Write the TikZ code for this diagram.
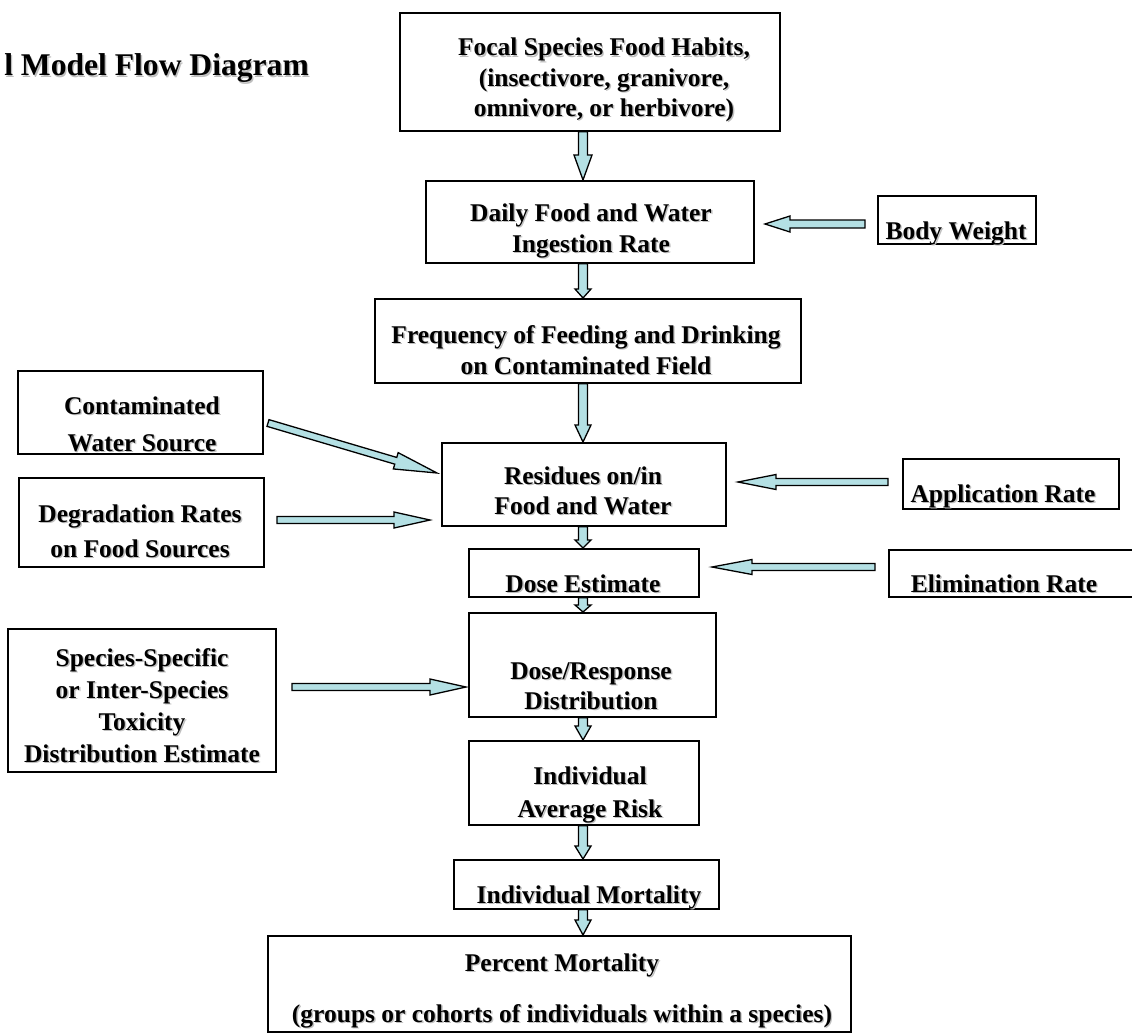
\documentclass[tikz,border=0pt]{standalone}
\usepackage{fontspec}
\setmainfont{Liberation Serif}
\usetikzlibrary{calc}
\definecolor{afill}{RGB}{180,224,228}
\newcommand\shd[1]{\leavevmode\rlap{\kern1.4pt\raisebox{-1.4pt}{\color{black!25}#1}}#1}
% #1 half shaft, #2 half head, #3 head length, #4 from, #5 to
\newcommand\barr[5]{%
\draw[barrow] let \p1=($(#5)-(#4)$), \n1={atan2(\y1,\x1)}, \n2={veclen(\x1,\y1)} in
($(#4)+(\n1+90:#1)$) -- ($(#4)+(\n1:\n2-#3)+(\n1+90:#1)$) -- ($(#4)+(\n1:\n2-#3)+(\n1+90:#2)$) -- (#5)
-- ($(#4)+(\n1:\n2-#3)+(\n1-90:#2)$) -- ($(#4)+(\n1:\n2-#3)+(\n1-90:#1)$) -- ($(#4)+(\n1-90:#1)$) -- cycle;}
\begin{document}
\begin{tikzpicture}[x=1pt,y=-1pt,
  box/.style={draw, line width=1.8pt, inner sep=0, anchor=north west},
  txt/.style={font=\fontsize{25.5}{31}\selectfont\bfseries, inner sep=0, anchor=base},
  barrow/.style={draw=black, line width=1.3pt, fill=afill, line join=miter}]
\useasboundingbox (0,0) rectangle (1132,1033);
\clip (0,0) rectangle (1132,1033);
% title
\node[font=\fontsize{31.6}{38}\selectfont\bfseries, inner sep=0, anchor=base east] (title) at (309,76) {\shd{l Model Flow Diagram}};
% boxes
\node[box, minimum width=380pt, minimum height=118pt] (focal) at (399,12) {};
\node[box, minimum width=328pt, minimum height=82pt] (daily) at (425,180) {};
\node[box, minimum width=158pt, minimum height=48pt] (bw) at (877,195) {};
\node[box, minimum width=426pt, minimum height=84pt] (freq) at (374,298) {};
\node[box, minimum width=245pt, minimum height=83pt] (contam) at (17,370) {};
\node[box, minimum width=284pt, minimum height=83pt] (res) at (441,442) {};
\node[box, minimum width=216pt, minimum height=50pt] (app) at (902,458) {};
\node[box, minimum width=245pt, minimum height=89pt] (degr) at (18,477) {};
\node[box, minimum width=230pt, minimum height=48pt] (dose) at (468,548) {};
\node[box, minimum width=260pt, minimum height=47pt] (elim) at (888,549) {};
\node[box, minimum width=268pt, minimum height=143pt] (spec) at (7,628) {};
\node[box, minimum width=247pt, minimum height=104pt] (dr) at (468,612) {};
\node[box, minimum width=230pt, minimum height=84pt] (avg) at (468,740) {};
\node[box, minimum width=265pt, minimum height=49pt] (imort) at (453,859) {};
\node[box, minimum width=583pt, minimum height=96pt] (pct) at (267,935) {};
% texts
\node[txt] (focal1) at (604,56) {\shd{Focal Species Food Habits,}};
\node[txt] (focal2) at (604,86) {\shd{(insectivore, granivore,}};
\node[txt] (focal3) at (604,116) {\shd{omnivore, or herbivore)}};
\node[txt] (daily1) at (591,221) {\shd{Daily Food and Water}};
\node[txt] (daily2) at (591,252) {\shd{Ingestion Rate}};
\node[txt] (bw1) at (956,239) {\shd{Body Weight}};
\node[txt] (freq1) at (586,343) {\shd{Frequency of Feeding and Drinking}};
\node[txt] (freq2) at (586,374) {\shd{on Contaminated Field}};
\node[txt] (contam1) at (142,414) {\shd{Contaminated}};
\node[txt] (contam2) at (142,451) {\shd{Water Source}};
\node[txt] (res1) at (583,484) {\shd{Residues on/in}};
\node[txt] (res2) at (583,514) {\shd{Food and Water}};
\node[txt] (app1) at (1003,502) {\shd{Application Rate}};
\node[txt] (degr1) at (140,522) {\shd{Degradation Rates}};
\node[txt] (degr2) at (140,557) {\shd{on Food Sources}};
\node[txt] (dose1) at (583,592) {\shd{Dose Estimate}};
\node[txt] (elim1) at (1004,592) {\shd{Elimination Rate}};
\node[txt] (spec1) at (142,666) {\shd{Species-Specific}};
\node[txt] (spec2) at (142,698) {\shd{or Inter-Species}};
\node[txt] (spec3) at (142,730) {\shd{Toxicity}};
\node[txt] (spec4) at (142,762) {\shd{Distribution Estimate}};
\node[txt] (dr1) at (591,679) {\shd{Dose/Response}};
\node[txt] (dr2) at (591,709) {\shd{Distribution}};
\node[txt] (avg1) at (590,784) {\shd{Individual}};
\node[txt] (avg2) at (590,817) {\shd{Average Risk}};
\node[txt] (imort1) at (589,903) {\shd{Individual Mortality}};
\node[txt] (pct1) at (562,971) {\shd{Percent Mortality}};
\node[txt] (pct2) at (562,1022) {\shd{(groups or cohorts of individuals within a species)}};
% arrow end points
\coordinate (bwt) at (865,224); \coordinate (bwh) at (765,224);
\coordinate (appt) at (888,482); \coordinate (apph) at (738,482);
\coordinate (elimt) at (875,567); \coordinate (elimh) at (712,567);
\coordinate (contamt) at (268,423); \coordinate (contamh) at (437,473);
\coordinate (degrt) at (277,520); \coordinate (degrh) at (430,520);
\coordinate (spect) at (292,687); \coordinate (spech) at (466,687);
% vertical arrows
\barr{4.5pt}{9pt}{25pt}{583,0 |- focal.south}{583,0 |- daily.north}
\barr{4.5pt}{8pt}{9pt}{583,0 |- daily.south}{583,0 |- freq.north}
\barr{4.5pt}{8pt}{17pt}{583,0 |- freq.south}{583,0 |- res.north}
\barr{4.5pt}{8pt}{8pt}{583,0 |- res.south}{583,0 |- dose.north}
\barr{4.5pt}{8pt}{7pt}{583,0 |- dose.south}{583,0 |- dr.north}
\barr{4.5pt}{8pt}{14pt}{583,0 |- dr.south}{583,0 |- avg.north}
\barr{4.5pt}{8pt}{13pt}{583,0 |- avg.south}{583,0 |- imort.north}
\barr{4.5pt}{8pt}{15pt}{583,0 |- imort.south}{583,0 |- pct.north}
% side arrows
\barr{4pt}{8pt}{25pt}{bwt}{bwh}
\barr{3.5pt}{7.5pt}{38pt}{appt}{apph}
\barr{3.5pt}{7.5pt}{40pt}{elimt}{elimh}
\barr{3.5pt}{8.5pt}{43pt}{contamt}{contamh}
\barr{3.5pt}{8pt}{36pt}{degrt}{degrh}
\barr{3.5pt}{8pt}{36pt}{spect}{spech}
\end{tikzpicture}
\end{document}
